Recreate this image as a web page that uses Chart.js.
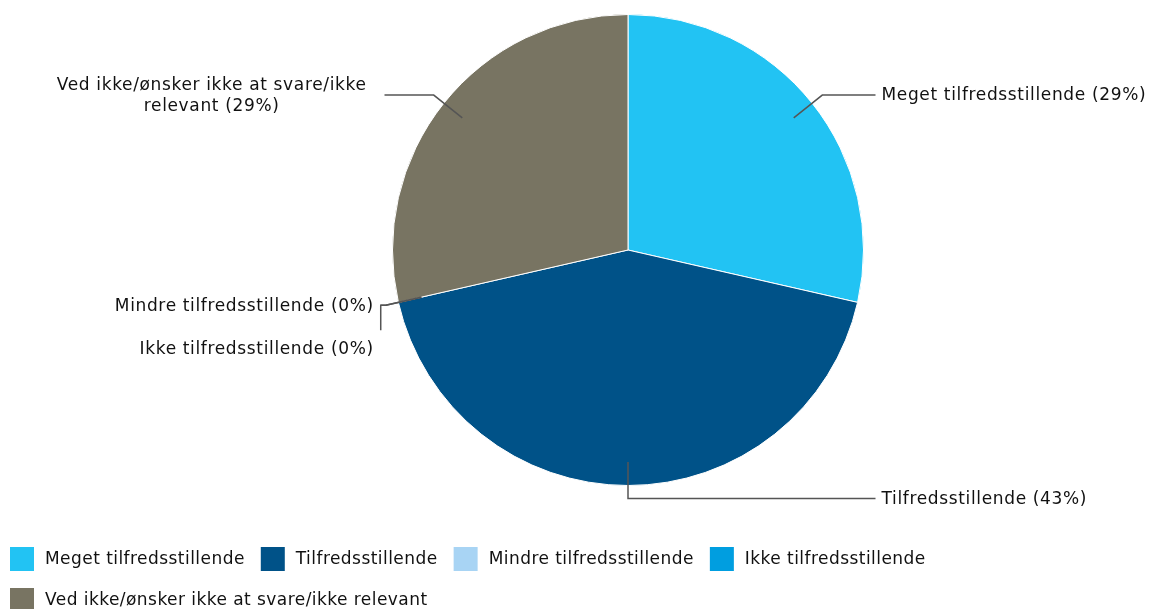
<!DOCTYPE html>
<html>
<head>
<meta charset="utf-8">
<script src="https://cdn.jsdelivr.net/npm/chart.js@4.4.1/dist/chart.umd.min.js"></script>
<style>
  html, body { margin: 0; padding: 0; background: #fff; }
  #wrap { width: 1149px; height: 609px; position: relative; }
</style>
</head>
<body>
<div id="wrap"><canvas id="pie-chart" width="1149" height="609"></canvas></div>
<script>
const labels = [
    'Meget tilfredsstillende',
    'Tilfredsstillende',
    'Mindre tilfredsstillende',
    'Ikke tilfredsstillende',
    'Ved ikke/ønsker ikke at svare/ikke relevant'
];
const answers = [2, 3, 0, 0, 2];
const percentLabels = ['29%', '43%', '0%', '0%', '29%'];
const colors = ['#22c3f3', '#005288', '#a8d4f4', '#009ee0', '#787462'];

const FONT = '17px "DejaVu Sans", Verdana, sans-serif';
const TEXT = '#111111';
const LINE = '#555555';

// where each label goes (side + little tweaks), geometry comes from the arcs
const labelLayout = [
    { side: 'right' },
    { side: 'right', straightDown: true },
    { side: 'left', gap: 7 },
    { side: 'left', gap: 7, drop: 25, textDrop: 43 },
    { side: 'left', gap: 18, lines: ['Ved ikke/ønsker ikke at svare/ikke', 'relevant (29%)'] }
];

const leaderLabels = {
    id: 'leaderLabels',
    afterDatasetsDraw(chart) {
        const ctx = chart.ctx;
        const arcs = chart.getDatasetMeta(0).data;
        ctx.save();
        ctx.font = FONT;
        ctx.letterSpacing = '0.65px';
        ctx.textBaseline = 'middle';
        arcs.forEach((arc, i) => {
            const { x, y, outerRadius, startAngle, endAngle } = arc.getProps(['x', 'y', 'outerRadius', 'startAngle', 'endAngle'], true);
            const mid = (startAngle + endAngle) / 2;
            const lay = labelLayout[i];
            const sx = x + Math.cos(mid) * outerRadius * 0.9;
            const sy = y + Math.sin(mid) * outerRadius * 0.9;
            let ex = x + Math.cos(mid) * (outerRadius + 13);
            let ey = y + Math.sin(mid) * (outerRadius + 13);
            if (lay.straightDown) { ex = sx; }
            ctx.strokeStyle = LINE;
            ctx.lineWidth = 1.5;
            ctx.beginPath();
            ctx.moveTo(sx, sy);
            ctx.lineTo(ex, ey);
            let endX;
            if (lay.side === 'right') {
                endX = x + outerRadius + 12;
            } else {
                endX = Math.min(ex - 5, x - outerRadius - 8);
            }
            ctx.lineTo(endX, ey);
            if (lay.drop) ctx.lineTo(endX, ey + lay.drop);
            ctx.stroke();

            ctx.fillStyle = TEXT;
            const text = labels[i] + ' (' + percentLabels[i] + ')';
            if (lay.side === 'right') {
                ctx.textAlign = 'left';
                ctx.fillText(text, endX + 6, ey + 1);
            } else if (lay.lines) {
                const w = Math.max(...lay.lines.map(l => ctx.measureText(l).width));
                const cxText = endX - lay.gap - w / 2;
                ctx.textAlign = 'center';
                ctx.fillText(lay.lines[0], cxText, ey - 9);
                ctx.fillText(lay.lines[1], cxText, ey + 12);
            } else {
                ctx.textAlign = 'right';
                ctx.fillText(text, endX - lay.gap, ey + 1 + (lay.textDrop || 0));
            }
        });
        ctx.restore();
    }
};

const bottomLegend = {
    id: 'bottomLegend',
    afterDraw(chart) {
        const ctx = chart.ctx;
        ctx.save();
        ctx.font = FONT;
        ctx.letterSpacing = '0.45px';
        ctx.textBaseline = 'middle';
        ctx.textAlign = 'left';
        let lx = 10;
        let ly = 547;
        const box = 24;
        labels.forEach((lab, i) => {
            const w = box + 11 + ctx.measureText(lab).width;
            if (lx + w > chart.width - 10) {
                lx = 10;
                ly += 41;
            }
            ctx.fillStyle = colors[i];
            ctx.fillRect(lx, ly, box, box);
            ctx.fillStyle = TEXT;
            ctx.fillText(lab, lx + box + 11, ly + box / 2 + 1);
            lx += w + 16;
        });
        ctx.restore();
    }
};

const ctx = document.getElementById('pie-chart').getContext('2d');
new Chart(ctx, {
    type: 'pie',
    data: {
        labels: labels,
        datasets: [{
            data: answers,
            backgroundColor: colors,
            borderColor: '#ffffff',
            borderWidth: 1
        }]
    },
    options: {
        responsive: false,
        animation: false,
        layout: { padding: { top: 14, bottom: 123, left: 107, right: 0 } },
        plugins: {
            legend: { display: false },
            tooltip: { enabled: false }
        }
    },
    plugins: [leaderLabels, bottomLegend]
});
</script>
</body>
</html>
